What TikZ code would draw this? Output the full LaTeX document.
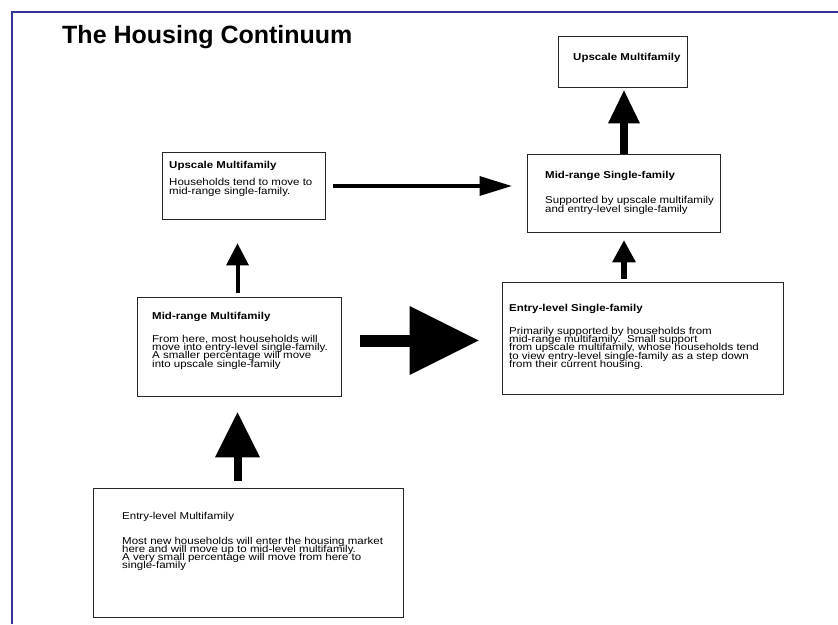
\documentclass[tikz,border=0pt]{standalone}
\usepackage{fontspec}
\usetikzlibrary{arrows.meta,calc}
\newfontfamily\bodyfont[FakeStretch=1.15]{Liberation Sans}
\newfontfamily\headfont{Liberation Sans}
\definecolor{framecol}{HTML}{333399}
\newcommand\mytightlines{\lineskiplimit=-100pt\relax}
\newcommand\mystrut{\rule{0pt}{7.2pt}}
\begin{document}
\begin{tikzpicture}[x=1pt,y=-1pt,
  box/.style={draw=black!85, line width=0.9pt, inner sep=0pt},
  txt/.style={anchor=north west, inner sep=0pt, align=left,
    font=\bodyfont\fontsize{10}{8.2}\selectfont\mytightlines},
  looser/.style={font=\bodyfont\fontsize{10}{9.2}\selectfont\mytightlines},
  conn/.style={draw=black, fill=black, line cap=butt}]
\useasboundingbox[fill=white] (0,0) rectangle (838,624);
\draw[framecol, line width=2pt] (12,624) -- (12,12) -- (838,12);
\node[anchor=base west, inner sep=0pt, font=\headfont\bfseries\fontsize{25}{30}\selectfont] (title) at (62,43) {The Housing Continuum};

% boxes
\node[box, minimum width=129pt, minimum height=51pt] (topUM) at (622.5,61.5) {};
\node[box, minimum width=163pt, minimum height=67pt] (leftUM) at (243.5,185.5) {};
\node[box, minimum width=193pt, minimum height=78pt] (midSF) at (623.5,193) {};
\node[box, minimum width=204pt, minimum height=99pt] (midMF) at (239,346.5) {};
\node[box, minimum width=281pt, minimum height=112pt] (entrySF) at (642.5,338) {};
\node[box, minimum width=310pt, minimum height=129pt] (entryMF) at (248,552.5) {};

% texts (north = first baseline - 7.2)
\node[txt] (topUMt) at (573,52.8) {\mystrut\textbf{Upscale Multifamily}};
\node[txt, looser] (leftUMt) at (169,161.1) {\mystrut\textbf{Upscale Multifamily}\\[7.5pt]
  Households tend to move to\\ mid-range single-family.};
\node[txt, looser] (midSFt) at (545,171.1) {\mystrut\textbf{Mid-range Single-family}\\[16pt]
  Supported by upscale multifamily\\ and entry-level single-family};
\node[txt] (midMFt) at (152,312.1) {\mystrut\textbf{Mid-range Multifamily}\\[14.8pt]
  From here, most households will\\ move into entry-level single-family.\\
  A smaller percentage will move\\ into upscale single-family};
\node[txt] (entrySFt) at (509,304.5) {\mystrut\textbf{Entry-level Single-family}\\[14.4pt]
  Primarily supported by households from\\ mid-range multifamily.\ \ Small support\\
  from upscale multifamily, whose households tend\\ to view entry-level single-family as a step down\\
  from their current housing.};
\node[txt] (entryMFt) at (122,511.8) {\mystrut Entry-level Multifamily\\[16.8pt]
  Most new households will enter the housing market\\ here and will move up to mid-level multifamily.\\
  A very small percentage will move from here to\\ single-family};

% connectors
\draw[conn, line width=8pt, -{Triangle[length=33pt,width=32pt,line width=0pt]}]
  ($(midSF.north)+(0.5,0)$) -- ($(topUM.south)+(1.5,3)$);
\draw[conn, line width=6pt, -{Triangle[length=22pt,width=24pt,line width=0pt]}]
  ($(midSF.south |- entrySF.north)+(0.5,-3)$) -- ($(midSF.south)+(0.5,8)$);
\draw[conn, line width=4pt, -{Triangle[length=32pt,width=20pt,line width=0pt]}]
  ($(leftUM.east)+(8,0.5)$) -- ($(midSF.west)+(-15,-7)$);
\draw[conn, line width=12pt, -{Triangle[length=69pt,width=69pt,line width=0pt]}]
  ($(midMF.east)+(19,-6)$) -- ($(entrySF.west)+(-23,2.5)$);
\draw[conn, line width=4pt, -{Triangle[length=22pt,width=23pt,line width=0pt]}]
  ($(midMF.north)+(-1.5,-4)$) -- ($(leftUM.south)+(-6,24)$);
\draw[conn, line width=8pt, -{Triangle[length=45pt,width=45pt,line width=0pt]}]
  ($(entryMF.north)+(-10.5,-7)$) -- ($(midMF.south)+(-1.5,16)$);
\end{tikzpicture}
\end{document}
